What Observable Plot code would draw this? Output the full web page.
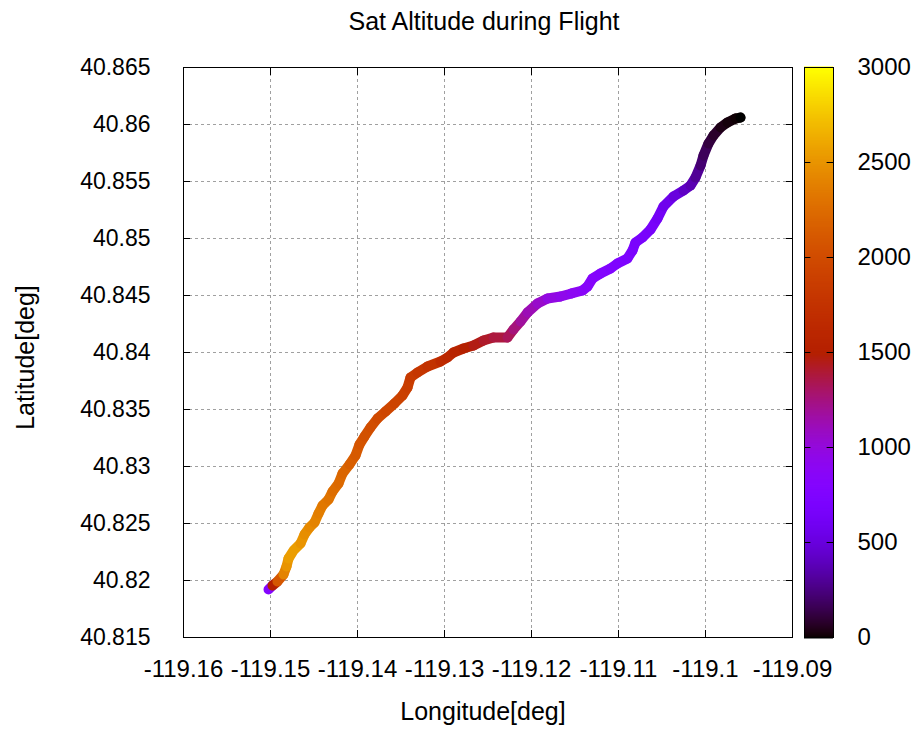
<!DOCTYPE html>
<html><head><meta charset="utf-8">
<script src="https://cdn.jsdelivr.net/npm/d3@7"></script>
<script src="https://cdn.jsdelivr.net/npm/@observablehq/plot@0.6"></script>
<style>
body{margin:0;background:#fff}
#wrap{position:relative;width:917px;height:729px}
#cb{position:absolute;left:804px;top:0}
#main{position:absolute;left:0;top:0}
</style>
</head><body><div id="wrap"><div id="main"></div><div id="cb"></div></div>
<script>
const titleText = "Sat Altitude during Flight";
const xLabel = "Longitude[deg]";
const yLabel = "Latitude[deg]";

const lon = [-119.15023,-119.14977,-119.14920,-119.14851,-119.14816,-119.14793,-119.14736,-119.14655,-119.14609,-119.14552,
-119.14494,-119.14448,-119.14402,-119.14333,-119.14287,-119.14218,-119.14172,-119.14092,-119.14023,-119.13977,
-119.13920,-119.13851,-119.13770,-119.13678,-119.13575,-119.13483,-119.13425,-119.13391,-119.13310,-119.13195,
-119.13046,-119.12966,-119.12897,-119.12782,-119.12667,-119.12552,-119.12437,-119.12276,-119.12207,-119.12126,
-119.12046,-119.11931,-119.11816,-119.11667,-119.11540,-119.11414,-119.11356,-119.11299,-119.11207,-119.11092,
-119.11012,-119.10897,-119.10839,-119.10805,-119.10724,-119.10632,-119.10552,-119.10483,-119.10368,-119.10253,
-119.10172,-119.10115,-119.10057,-119.10023,-119.09966,-119.09908,-119.09828,-119.09747,-119.09655,-119.09598];

const lat = [40.81921,40.81956,40.81991,40.82053,40.82123,40.82193,40.82263,40.82325,40.82404,40.82465,
40.82509,40.82588,40.82658,40.82711,40.82781,40.82851,40.82939,40.83018,40.83096,40.83193,
40.83263,40.83342,40.83421,40.83482,40.83553,40.83623,40.83693,40.83781,40.83825,40.83877,
40.83921,40.83956,40.84000,40.84035,40.84061,40.84105,40.84132,40.84132,40.84202,40.84272,
40.84351,40.84430,40.84474,40.84491,40.84518,40.84544,40.84579,40.84649,40.84693,40.84737,
40.84781,40.84825,40.84895,40.84965,40.85009,40.85079,40.85175,40.85281,40.85368,40.85421,
40.85465,40.85535,40.85640,40.85728,40.85833,40.85904,40.85974,40.86018,40.86053,40.86061];

const alt = [800,1500,2100,2400,2500,2550,2550,2500,2470,2440,
2400,2370,2330,2300,2260,2230,2200,2150,2110,2070,
2040,2010,1980,1950,1920,1890,1860,1830,1790,1740,
1650,1610,1560,1500,1460,1420,1380,1330,1260,1180,
1120,1060,980,940,900,860,840,820,790,760,
740,720,700,690,680,660,620,570,500,420,
370,300,220,170,120,80,40,20,10,0];

const xTicks = [-119.16,-119.15,-119.14,-119.13,-119.12,-119.11,-119.10,-119.09];
const yTicks = [40.815,40.82,40.825,40.83,40.835,40.84,40.845,40.85,40.855,40.86,40.865];
const cbTicks = [0,500,1000,1500,2000,2500,3000];

// gnuplot classic pm3d palette (rgbformulae 7,5,15)
const palette = t => {
  const r = Math.sqrt(Math.max(0, t));
  const g = t * t * t;
  const b = Math.max(0, Math.sin(2 * Math.PI * t));
  return `rgb(${Math.round(255*r)},${Math.round(255*g)},${Math.round(255*b)})`;
};
const colorScale = {type: "linear", domain: [0, 3000], interpolate: palette};

const points = lon.map((x, i) => ({lon: x, lat: lat[i], alt: alt[i]}));
const font = {fontFamily: "'Liberation Sans', Arial, sans-serif", fontSize: "24px", color: "#000", background: "#fff"};

const fmtY = d => String(+d.toFixed(3));
const fmtX = d => String(+d.toFixed(2));

const main = Plot.plot({
  width: 917, height: 729,
  marginLeft: 183, marginRight: 125, marginTop: 67, marginBottom: 92,
  style: font,
  x: {domain: [-119.16, -119.09], label: null},
  y: {domain: [40.815, 40.865], label: null},
  color: colorScale,
  marks: [
    Plot.gridX(xTicks, {stroke: "#a0a0a0", strokeOpacity: 1, strokeDasharray: "3,3"}),
    Plot.gridY(yTicks, {stroke: "#a0a0a0", strokeOpacity: 1, strokeDasharray: "3,3"}),
    Plot.axisX(xTicks, {anchor: "bottom", tickSize: -7, tickPadding: 29, tickFormat: fmtX, label: null}),
    Plot.axisX(xTicks, {anchor: "top", tickSize: -7, tickFormat: () => "", label: null}),
    Plot.axisY(yTicks, {anchor: "left", tickSize: -7, tickPadding: 40, tickFormat: fmtY, fontSize: 23, label: null}),
    Plot.axisY(yTicks, {anchor: "right", tickSize: -7, tickFormat: () => "", label: null}),
    Plot.line(points, {x: "lon", y: "lat", z: null, stroke: "alt", strokeWidth: 10, strokeLinejoin: "round", strokeLinecap: "round"}),
    Plot.frame({stroke: "black", strokeWidth: 1}),
    Plot.text([titleText], {text: d => d, frameAnchor: "top", dy: -55, dx: -4, fontSize: 25}),
    Plot.text([xLabel], {text: d => d, frameAnchor: "bottom", dy: 82, dx: -5, fontSize: 25}),
    Plot.text([yLabel], {text: d => d, frameAnchor: "left", textAnchor: "middle", dx: -158, dy: 5, rotate: -90, fontSize: 25})
  ]
});
document.getElementById("main").appendChild(main);

const ramp = d3.range(0, 3001, 5);
const cb = Plot.plot({
  width: 113, height: 729,
  marginLeft: 0, marginRight: 84, marginTop: 67, marginBottom: 92,
  style: {...font, background: "transparent"},
  x: {domain: [0, 1], axis: null},
  y: {domain: [0, 3000], label: null},
  color: colorScale,
  marks: [
    Plot.ruleY(ramp, {y: d => d, stroke: d => d, strokeWidth: 2}),
    Plot.ruleY(cbTicks.slice(1, -1), {y: d => d, x1: d => 0, x2: d => 0.22, stroke: "black"}),
    Plot.ruleY(cbTicks.slice(1, -1), {y: d => d, x1: d => 0.78, x2: d => 1, stroke: "black"}),
    Plot.axisY(cbTicks, {anchor: "right", tickSize: 0, tickPadding: 24, tickFormat: d => String(d), label: null}),
    Plot.frame({stroke: "black", strokeWidth: 1})
  ]
});
document.getElementById("cb").appendChild(cb);
</script>
</body></html>
